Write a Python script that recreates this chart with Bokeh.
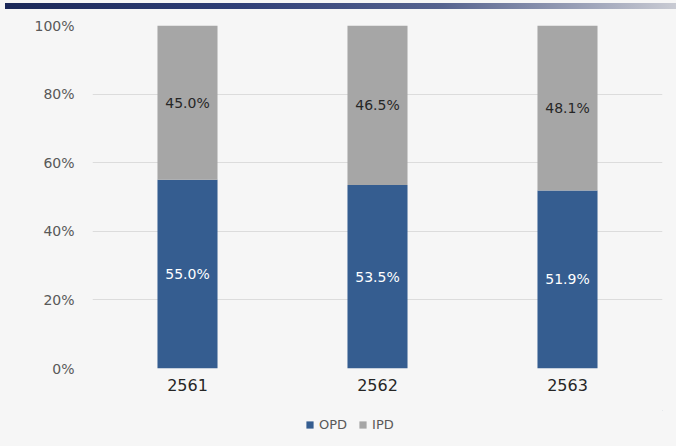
from bokeh.plotting import figure
from bokeh.layouts import column
from bokeh.models import Div, ColumnDataSource, PrintfTickFormatter, Legend, LegendItem, FixedTicker
from bokeh.core.properties import value
from bokeh.embed import file_html
from bokeh.resources import INLINE

years = ["2561", "2562", "2563"]
opd = [55.0, 53.5, 51.9]
ipd = [45.0, 46.5, 48.1]
y_ticks = [0, 20, 40, 60, 80, 100]
series = ["OPD", "IPD"]

BG = "#f6f6f6"
C_OPD = "#355d90"
C_IPD = "#a6a6a6"
FONT = "DejaVu Sans"

src = ColumnDataSource(dict(
    year=years, OPD=opd, IPD=ipd,
    opd_mid=[v / 2 for v in opd],
    ipd_mid=[o + i / 2 for o, i in zip(opd, ipd)],
    opd_lbl=[f"{v:.1f}%" for v in opd],
    ipd_lbl=[f"{v:.1f}%" for v in ipd],
))

p = figure(x_range=years, y_range=(0, 100), width=676, height=400,
           output_backend="svg", toolbar_location=None,
           min_border_left=92, min_border_right=14, min_border_top=15, min_border_bottom=42,
           background_fill_color=BG, border_fill_color=BG, outline_line_color=None)

r = p.vbar_stack(series, x="year", width=0.316, source=src,
                 color=[C_OPD, C_IPD], line_color=None)

p.text(x="year", y="opd_mid", text="opd_lbl", source=src, text_align="center",
       text_baseline="middle", text_color="white", text_font_size="14px",
       text_font=value(FONT))
p.text(x="year", y="ipd_mid", text="ipd_lbl", source=src, text_align="center",
       text_baseline="middle", text_color="#262626", text_font_size="14px",
       text_font=value(FONT))

p.xgrid.grid_line_color = None
p.ygrid.grid_line_color = "#dcdcdc"
p.ygrid.grid_line_width = 1
p.yaxis.ticker = FixedTicker(ticks=y_ticks)
p.yaxis.formatter = PrintfTickFormatter(format="%d%%")
for ax in (p.xaxis[0], p.yaxis[0]):
    ax.axis_line_color = None
    ax.major_tick_line_color = None
    ax.minor_tick_line_color = None
p.yaxis.major_label_text_font_size = "14px"
p.yaxis.major_label_text_color = "#595959"
p.yaxis.major_label_text_font = FONT
p.yaxis.major_label_standoff = 12
p.xaxis.major_label_text_font_size = "16px"
p.xaxis.major_label_text_color = "#262626"
p.xaxis.major_label_text_font = FONT
p.xaxis.major_label_standoff = 4
p.x_range.range_padding = 0.0

# legend strip below the chart (its swatch renderers sit outside the visible range)
lf = figure(width=676, height=36, x_range=(0, 1), y_range=(0, 1),
            x_axis_location=None, y_axis_location=None,
            output_backend="svg", toolbar_location=None,
            min_border=0, min_border_left=0, min_border_right=0,
            min_border_top=0, min_border_bottom=0,
            background_fill_color=BG, border_fill_color=BG, outline_line_color=None)
lf.grid.visible = False
lr1 = lf.vbar(x=[5], top=[5], bottom=[4], width=0.1, color=C_OPD, line_color=None)
lr2 = lf.vbar(x=[5], top=[5], bottom=[4], width=0.1, color=C_IPD, line_color=None)
legend = Legend(items=[LegendItem(label=series[0], renderers=[lr1]),
                       LegendItem(label=series[1], renderers=[lr2])],
                orientation="horizontal", location=(213, 14),
                background_fill_alpha=0, border_line_color=None,
                label_text_font_size="13px", label_text_color="#595959",
                label_text_font=FONT, glyph_width=9, glyph_height=9,
                spacing=11, label_standoff=5, padding=4, margin=0)
lf.add_layout(legend, "center")

bar = Div(text="", width=671, height=6, margin=(3, 0, 1, 5),
          styles={"background": "linear-gradient(to right,#1b2858 0%,#2f3f77 35%,#56638f 65%,#c9cbd3 100%)"})

layout = column(bar, p, lf, spacing=0, styles={"background-color": BG})
open("out.html", "w").write(file_html(layout, INLINE))
